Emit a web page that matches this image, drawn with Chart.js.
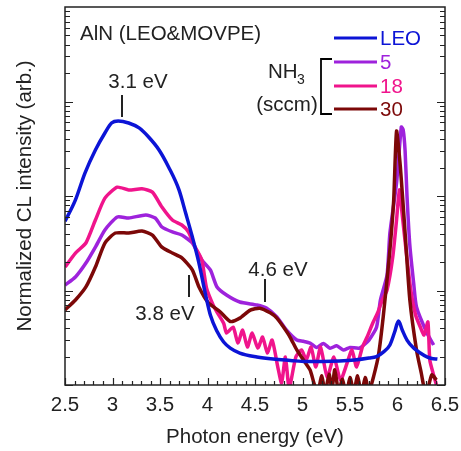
<!DOCTYPE html>
<html>
<head>
<meta charset="utf-8">
<script src="https://cdn.jsdelivr.net/npm/chart.js@4"></script>
<style>
  html, body { margin: 0; padding: 0; background: #fff; }
  #wrap { width: 461px; height: 451px; }
</style>
</head>
<body>
<div id="wrap"><canvas id="chartCL" width="461" height="451"></canvas></div>
<script>
/* =============================================
   DATA  (photon energy in eV, CL intensity arb.)
   ============================================= */
const xTickLabels = ['2.5', '3', '3.5', '4', '4.5', '5', '5.5', '6', '6.5'];

// LEO
const eLEO = [2.50, 2.61, 2.71, 2.82, 2.92, 2.99, 3.06, 3.17, 3.28, 3.38, 3.49, 3.59, 3.70, 3.77, 3.84, 3.91,
  3.98, 4.03, 4.10, 4.17, 4.24, 4.34, 4.52, 4.69, 4.87, 5.04, 5.22, 5.39, 5.55, 5.70, 5.78, 5.85, 5.92, 5.97,
  6.01, 6.05, 6.10, 6.17, 6.24, 6.31, 6.36, 6.42];
const vLEO = [54, 91, 175, 307, 464, 592, 622, 592, 525, 421, 307, 203, 116, 66, 37, 19.5,
  9.0, 5.5, 3.7, 2.85, 2.46, 2.18, 1.98, 1.88, 1.82, 1.77, 1.77, 1.79, 1.84, 1.93, 2.0, 2.23, 2.65, 3.64,
  4.75, 3.82, 2.99, 2.46, 2.18, 1.98, 1.91, 1.88];

// NH3 = 5 sccm
const e5 = [2.50, 2.61, 2.72, 2.82, 2.92, 3.05, 3.17, 3.35, 3.45, 3.52, 3.63, 3.73, 3.84, 3.94, 4.03, 4.10,
  4.20, 4.34, 4.52, 4.62, 4.73, 4.83, 4.94, 5.01, 5.08, 5.15, 5.22, 5.29, 5.36, 5.43, 5.50, 5.60, 5.70, 5.78,
  5.82, 5.89, 5.92, 5.99, 6.04, 6.06, 6.08, 6.10, 6.13, 6.17, 6.20, 6.31, 6.38];
const v5 = [11.4, 13.9, 19.5, 28.8, 43.7, 60, 58.5, 63, 58.5, 47, 41.6, 38.6, 31.8, 21, 16.5, 10.9,
  8.96, 7.55, 7.03, 6.53, 5.24, 3.82, 2.99, 2.9, 2.78, 2.5, 2.75, 2.45, 2.6, 2.35, 2.5, 2.46, 2.99, 4.11,
  7.93, 14.6, 40.6, 137, 537, 499, 300, 100, 30, 12, 6.7, 3.55, 2.65];

// NH3 = 18 sccm
const e18 = [2.50, 2.61, 2.72, 2.82, 2.92, 3.05, 3.17, 3.31, 3.42, 3.52, 3.63, 3.73, 3.80, 3.87, 3.94, 3.99,
  4.06, 4.10, 4.17, 4.20, 4.27, 4.32, 4.37, 4.42, 4.47, 4.53, 4.58, 4.63, 4.68, 4.74, 4.78, 4.82, 4.86, 4.93,
  4.99, 5.04, 5.09, 5.14, 5.19, 5.26, 5.33, 5.40, 5.47, 5.52, 5.57, 5.63, 5.68, 5.74, 5.79, 5.84, 5.89, 5.95,
  5.99, 6.02, 6.05, 6.09, 6.14, 6.19, 6.24, 6.28, 6.32, 6.34, 6.38, 6.41];
const v18 = [17.7, 24.9, 31.8, 55.7, 95, 124, 116, 119, 110, 76.5, 55.7, 49.3, 41.6, 28.8, 21, 10.6,
  7.0, 5.9, 4.5, 3.55, 4.1, 2.78, 3.82, 2.52, 3.55, 2.46, 3.22, 2.18, 2.99, 1.55, 1.05, 1.98, 0.93, 1.98,
  2.35, 1.84, 2.52, 1.55, 2.52, 1.21, 1.98, 1.13, 1.71, 2.35, 1.55, 2.52, 3.22, 4.53, 5.78, 7.93, 10.1, 22.6,
  55.7, 116, 63, 26.8, 10.1, 5.5, 4.11, 3.38, 4.64, 1.84, 1.28, 1.0];

// NH3 = 30 sccm
const e30 = [2.50, 2.61, 2.72, 2.82, 2.92, 3.03, 3.17, 3.31, 3.42, 3.52, 3.63, 3.73, 3.84, 3.91, 4.01, 4.13,
  4.24, 4.34, 4.45, 4.55, 4.66, 4.73, 4.80, 4.87, 4.94, 5.01, 5.08, 5.12, 5.16, 5.20, 5.24, 5.28, 5.31, 5.34,
  5.38, 5.42, 5.46, 5.50, 5.54, 5.58, 5.62, 5.66, 5.70, 5.75, 5.80, 5.85, 5.92, 5.96, 5.99, 6.03, 6.08, 6.13,
  6.20, 6.25, 6.30, 6.36, 6.41];
const v30 = [6.22, 7.93, 10.9, 17.7, 31.8, 40.6, 40.6, 42.6, 38.6, 28.8, 24.9, 22.1, 16.5, 10.9, 7.38, 6.0,
  4.7, 5.1, 6.2, 6.5, 5.8, 5.1, 4.1, 3.2, 2.35, 1.84, 1.44, 1.05, 0.8, 1.25, 0.85, 1.3, 0.9, 1.45,
  0.85, 1.15, 0.8, 1.2, 0.85, 1.25, 0.8, 1.2, 0.85, 1.25, 2.08, 5.3, 26.8, 90.7, 487, 204, 40.6, 7.93,
  2.35, 1.34, 0.78, 1.28, 1.13];

const seriesNames = ['LEO', '5', '18', '30'];
const seriesColors = ['#0c14d6', '#9e22dc', '#f0148c', '#7c0808'];

/* =============================================
   HELPERS
   ============================================= */
const FONT = '"Liberation Sans", Arial, sans-serif';
const FSIZE = 20.5;
const INK = '#222';

function pts(xs, ys) {
  return xs.map((x, i) => ({ x, y: ys[i] }));
}

// smooth = true only for the clean LEO spectrum; noisy ones get a light tension
function line(label, xs, ys, color, order, smooth) {
  const ds = {
    label,
    data: pts(xs, ys),
    borderColor: color,
    backgroundColor: color,
    borderWidth: 3.5,
    pointRadius: 0,
    tension: 0.2,
    order
  };
  if (smooth) ds.cubicInterpolationMode = 'monotone';
  return ds;
}

/* frame, inward ticks, annotations, legend */
const decorPlugin = {
  id: 'decor',
  afterDraw(chart) {
    const { ctx, chartArea: a, scales: { x, y } } = chart;
    ctx.save();
    ctx.strokeStyle = INK;
    ctx.lineWidth = 1.5;
    ctx.strokeRect(a.left, a.top, a.right - a.left, a.bottom - a.top);

    ctx.lineWidth = 1.2;
    ctx.beginPath();
    // x ticks every 0.1 eV, major every 0.5
    for (let i = 25; i <= 65; i++) {
      const px = Math.round(x.getPixelForValue(i / 10)) + 0.5;
      const len = i % 5 === 0 ? 7 : 4;
      ctx.moveTo(px, a.bottom);
      ctx.lineTo(px, a.bottom - len);
    }
    // log y ticks, both sides
    for (let dec = 1; dec < 10000; dec *= 10) {
      for (let k = 1; k <= 9; k++) {
        const py = Math.round(y.getPixelForValue(dec * k)) + 0.5;
        const len = k === 1 ? 8 : 5;
        ctx.moveTo(a.left, py); ctx.lineTo(a.left + len, py);
        ctx.moveTo(a.right, py); ctx.lineTo(a.right - len, py);
      }
    }
    ctx.stroke();

    // peak markers
    ctx.lineWidth = 2;
    ctx.beginPath();
    const mark = (ev, y0, y1) => {
      const px = Math.round(x.getPixelForValue(ev));
      ctx.moveTo(px, y0); ctx.lineTo(px, y1);
    };
    mark(3.1, 95, 117);
    mark(3.8, 275, 297);
    mark(4.6, 279, 302);
    ctx.stroke();

    const f = FSIZE + 'px ' + FONT;
    ctx.fillStyle = INK;
    ctx.font = f;
    ctx.textBaseline = 'middle';
    ctx.textAlign = 'left';
    ctx.fillText('AlN (LEO&MOVPE)', 80, 34);
    ctx.textAlign = 'center';
    ctx.fillText('3.1 eV', 138, 82);
    ctx.fillText('3.8 eV', 165, 314);
    ctx.fillText('4.6 eV', 278, 270);

    // legend
    const legY = [38, 62, 86, 109];
    seriesNames.forEach((name, i) => {
      ctx.strokeStyle = seriesColors[i];
      ctx.lineWidth = 3;
      ctx.beginPath();
      ctx.moveTo(334, legY[i]); ctx.lineTo(377, legY[i]);
      ctx.stroke();
      ctx.fillStyle = seriesColors[i];
      ctx.textAlign = 'left';
      ctx.fillText(name, 380, legY[i] + 1.5);
    });

    // NH3 (sccm) bracket
    ctx.strokeStyle = '#000';
    ctx.lineWidth = 1.8;
    ctx.beginPath();
    ctx.moveTo(332, 59); ctx.lineTo(321, 59); ctx.lineTo(321, 114); ctx.lineTo(332, 114);
    ctx.stroke();
    ctx.fillStyle = INK;
    ctx.textAlign = 'left';
    ctx.fillText('NH', 268, 72);
    ctx.font = '14px ' + FONT;
    ctx.fillText('3', 297, 80);
    ctx.font = f;
    ctx.textAlign = 'center';
    ctx.fillText('(sccm)', 287, 105);
    ctx.restore();
  }
};

/* =============================================
   CHART
   ============================================= */
new Chart(document.getElementById('chartCL').getContext('2d'), {
  type: 'line',
  data: {
    datasets: [
      line('LEO', eLEO, vLEO, seriesColors[0], 0, true),
      line('5 sccm', e5, v5, seriesColors[1], 3, false),
      line('18 sccm', e18, v18, seriesColors[2], 2, false),
      line('30 sccm', e30, v30, seriesColors[3], 1, false)
    ]
  },
  options: {
    responsive: false,
    animation: false,
    devicePixelRatio: 1,
    layout: { padding: { top: 7, right: 16, left: 0, bottom: 0 } },
    plugins: { legend: { display: false }, tooltip: { enabled: false } },
    scales: {
      x: {
        type: 'linear',
        min: 2.5,
        max: 6.5,
        grid: { display: false, drawTicks: false },
        border: { display: false },
        afterBuildTicks: s => { s.ticks = xTickLabels.map(t => ({ value: parseFloat(t) })); },
        ticks: {
          autoSkip: false,
          maxRotation: 0,
          padding: 8,
          color: INK,
          font: { family: FONT, size: FSIZE },
          callback: v => xTickLabels.find(t => Math.abs(parseFloat(t) - v) < 1e-6) || ''
        },
        title: {
          display: true,
          text: 'Photon energy (eV)',
          color: INK,
          font: { family: FONT, size: FSIZE },
          padding: { top: 0, bottom: 1 }
        },
        afterFit: s => { s.height = 66; s.paddingLeft = 0; s.paddingRight = 0; }
      },
      y: {
        type: 'logarithmic',
        min: 1,
        max: 10000,
        grid: { display: false, drawTicks: false },
        border: { display: false },
        ticks: { display: false },
        title: {
          display: true,
          text: 'Normalized CL intensity (arb.)',
          color: INK,
          font: { family: FONT, size: FSIZE },
          padding: { top: 13, bottom: 0 }
        },
        afterFit: s => { s.width = 65; }
      }
    }
  },
  plugins: [decorPlugin]
});
</script>
</body>
</html>
